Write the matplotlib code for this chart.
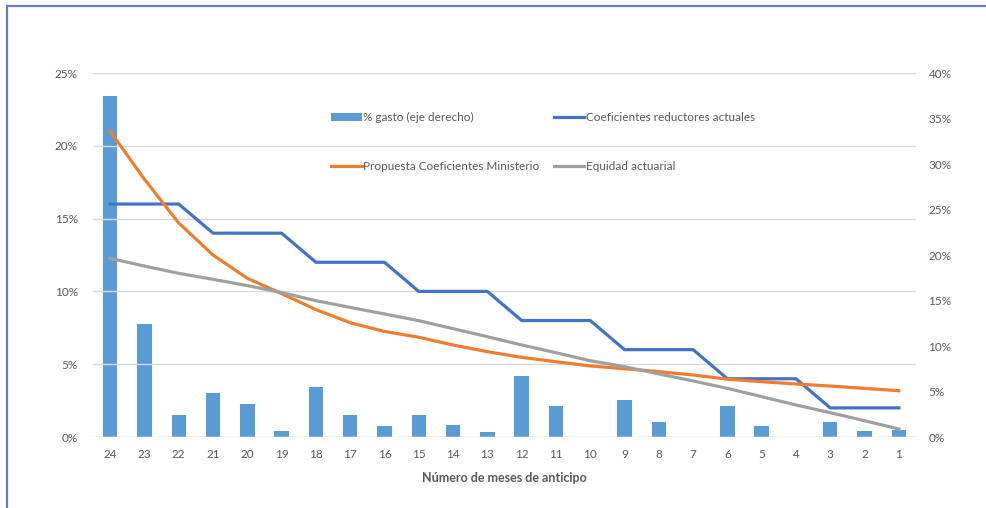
import numpy as np
import matplotlib
matplotlib.use("Agg")
import matplotlib.pyplot as plt
from matplotlib.patches import Rectangle
from matplotlib.ticker import FuncFormatter, MultipleLocator

plt.rcParams['font.family'] = ['Lato', 'DejaVu Sans']

meses = ['24', '23', '22', '21', '20', '19', '18', '17', '16', '15', '14', '13',
         '12', '11', '10', '9', '8', '7', '6', '5', '4', '3', '2', '1']

# % gasto (eje derecho)
gasto = [37.5, 12.4, 2.4, 4.8, 3.6, 0.7, 5.5, 2.4, 1.2, 2.4, 1.35, 0.5,
         6.7, 3.4, 0.0, 4.1, 1.6, 0.0, 3.4, 1.2, 0.0, 1.7, 0.65, 0.8]

coef_actuales = [16, 16, 16, 14, 14, 14, 12, 12, 12, 10, 10, 10,
                 8, 8, 8, 6, 6, 6, 4, 4, 4, 2, 2, 2]

propuesta = [21.0, 17.7, 14.7, 12.5, 10.9, 9.85, 8.75, 7.85, 7.25, 6.85, 6.32, 5.86,
             5.47, 5.17, 4.88, 4.69, 4.49, 4.26, 3.97, 3.8, 3.64, 3.5, 3.34, 3.18]

equidad = [12.27, 11.74, 11.24, 10.83, 10.4, 9.92, 9.36, 8.9, 8.45, 7.99, 7.44, 6.89,
           6.32, 5.79, 5.24, 4.83, 4.33, 3.85, 3.34, 2.77, 2.2, 1.67, 1.12, 0.55]

txt = '#595959'
c_bar = '#5B9BD5'
c_coef = '#4472C4'
c_prop = '#ED7D31'
c_eq = '#A0A0A0'

fig = plt.figure(figsize=(9.87, 5.08), dpi=100)
ax = fig.add_axes([93 / 987, 1 - 437 / 508, 823 / 987, 364 / 508])
ax2 = ax.twinx()
ax.set_zorder(ax2.get_zorder() + 1)
ax.patch.set_visible(False)

x = np.arange(len(meses))
bars = ax2.bar(x, gasto, width=0.42, color=c_bar, label='% gasto (eje derecho)')
l1, = ax.plot(x, coef_actuales, color=c_coef, lw=2.3, label='Coeficientes reductores actuales')
l2, = ax.plot(x, propuesta, color=c_prop, lw=2.3, label='Propuesta Coeficientes Ministerio')
l3, = ax.plot(x, equidad, color=c_eq, lw=2.3, label='Equidad actuarial')

pct = FuncFormatter(lambda v, p: f'{v:.0f}%')
ax.set_ylim(0, 25)
ax.yaxis.set_major_locator(MultipleLocator(5))
ax.yaxis.set_major_formatter(pct)
ax2.set_ylim(0, 40)
ax2.yaxis.set_major_locator(MultipleLocator(5))
ax2.yaxis.set_major_formatter(pct)
ax.set_xlim(-0.5, len(meses) - 0.5)
ax.set_xticks(x)
ax.set_xticklabels(meses)

ax.grid(axis='y', color='#d9d9d9', lw=1)
ax.set_axisbelow(True)
for a in (ax, ax2):
    for s in a.spines.values():
        s.set_visible(False)
    a.tick_params(length=0, colors=txt, labelsize=8.5)
ax.tick_params(axis='y', pad=11)
ax2.tick_params(axis='y', pad=9)
ax.tick_params(axis='x', pad=9)
ax.axhline(0, color='#d9d9d9', lw=1)

ax.set_xlabel('Número de meses de anticipo', color=txt, fontsize=9, fontweight='bold', labelpad=8)

leg = fig.legend(handles=[bars, l2, l1, l3], ncol=2, loc='upper left',
                 bbox_to_anchor=(325 / 987, 1 - 106 / 508), frameon=False,
                 fontsize=8.5, labelcolor=txt, handlelength=2.6, handletextpad=0.15,
                 columnspacing=1.2, labelspacing=3.2, borderpad=0)

# marco exterior
fig.add_artist(Rectangle((7 / 987, -0.1), 1.2, 1.1 - 6 / 508, transform=fig.transFigure,
                         fill=False, edgecolor='#6a7cc2', lw=1.6))

fig.savefig('out.png', dpi=100)
